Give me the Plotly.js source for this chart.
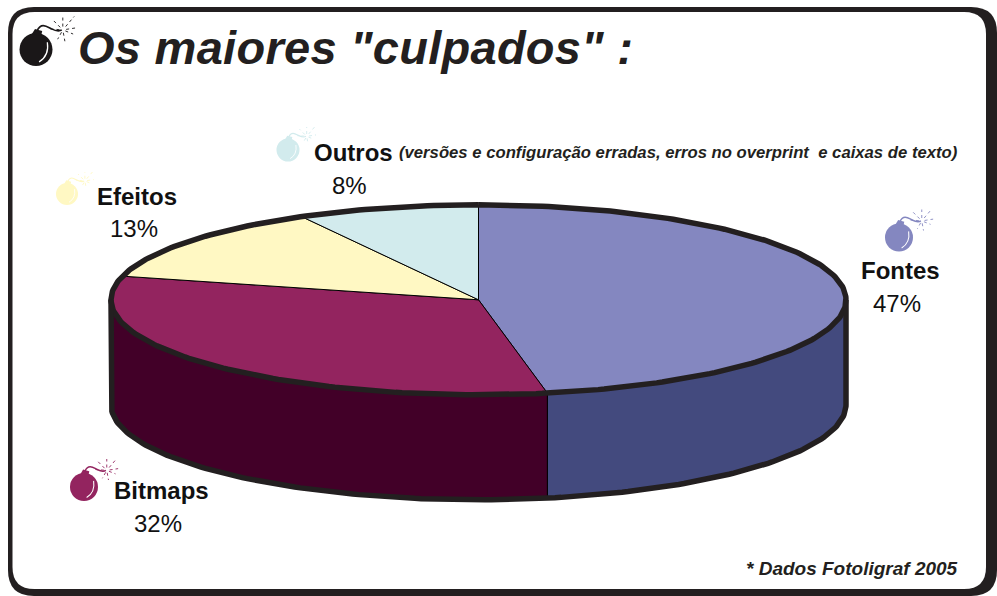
<!DOCTYPE html>
<html>
<head>
<meta charset="utf-8">
<script src="https://cdn.plot.ly/plotly-3.0.1.min.js"></script>
<style>
html,body{margin:0;padding:0;background:#fff;overflow:hidden}
#chart{width:997px;height:596px}
.gtitle{letter-spacing:0.28px}
</style>
</head>
<body>
<div id="chart"></div>
<script>
// Data
const categories = ['Fontes', 'Bitmaps', 'Efeitos', 'Outros'];
const shares = [47, 32, 13, 8];
const topColors = ['#8487c0', '#93245f', '#fff8c3', '#d2ebed'];
const sideColors = ['#434a7e', '#420028', '#fff8c3', '#d2ebed'];
const chartTitle = 'Os maiores "culpados" :';
const outrosNote = '(versões e configuração erradas, erros no overprint  e caixas de texto)';
const sourceNote = '* Dados Fotoligraf 2005';

// Geometry of the tilted pie, in axis units (axes run 0..997 and 596..0)
const PIE = {cx: 478.5, cy: 299.8, a: 367.5, b: 95, depth: 105};
const INK = '#231f20';
const rim = (deg, dy = 0) => {
  const t = deg * Math.PI / 180;
  return [PIE.cx + PIE.a * Math.sin(t), PIE.cy - PIE.b * Math.cos(t) + dy];
};
const arc = (from, to, dy = 0) => {
  const n = Math.max(2, Math.ceil(Math.abs(to - from)));
  const pts = [];
  for (let i = 0; i <= n; i++) pts.push(rim(from + (to - from) * i / n, dy));
  return pts;
};
const poly = (pts, fill, line, width) => ({
  type: 'scatter', mode: 'lines', x: pts.map(p => p[0]), y: pts.map(p => p[1]),
  fill: fill ? 'toself' : 'none', fillcolor: fill || undefined,
  line: {color: line, width: width}, hoverinfo: 'skip', showlegend: false
});

const total = shares.reduce((s, v) => s + v, 0);
let acc = 0;
const slices = shares.map((v, i) => {
  const from = acc / total * 360;
  acc += v;
  return {from, to: acc / total * 360, i};
});

const traces = [];
// Side walls: the visible front half of the rim only
slices.forEach(s => {
  const from = Math.max(s.from, 90), to = Math.min(s.to, 270);
  if (to <= from) return;
  const pts = arc(from, to).concat(arc(to, from, PIE.depth));
  pts.push(pts[0]);
  traces.push(poly(pts, sideColors[s.i], '#000000', 1));
});
// Top faces
slices.forEach(s => {
  const pts = [[PIE.cx, PIE.cy]].concat(arc(s.from, s.to));
  pts.push([PIE.cx, PIE.cy]);
  traces.push(poly(pts, topColors[s.i], '#000000', 1));
});
// Heavy outline
traces.push(poly(arc(0, 360), null, INK, 5.5));
const shell = [rim(270)].concat(arc(270, 90, PIE.depth)).concat([rim(90)]);
traces.push(poly(shell, null, INK, 5.5));

// Page frame and bomb icons
const rr = (x0, y0, x1, y1, r) =>
  `M${x0 + r},${y0}L${x1 - r},${y0}Q${x1},${y0} ${x1},${y0 + r}L${x1},${y1 - r}Q${x1},${y1} ${x1 - r},${y1}` +
  `L${x0 + r},${y1}Q${x0},${y1} ${x0},${y1 - r}L${x0},${y0 + r}Q${x0},${y0} ${x0 + r},${y0}Z`;

const shapes = [
  {type: 'path', path: rr(8, 7, 997, 596, 26), fillcolor: INK, line: {width: 0}, layer: 'below'},
  {type: 'path', path: rr(12.5, 12, 986, 589, 22), fillcolor: '#ffffff', line: {width: 0}, layer: 'below'}
];
function bomb(x, y, r, color, shine) {
  const s = r / 16, X = v => x + v * s, Y = v => y + v * s;
  const base = {xref: 'x', yref: 'y', layer: 'above'};
  shapes.push(Object.assign({}, base, {type: 'circle', x0: X(-16), x1: X(16), y0: Y(-16), y1: Y(16), fillcolor: color, line: {width: 0}}));
  shapes.push(Object.assign({}, base, {type: 'path', path: `M${X(-4)},${Y(-15)}L${X(-1)},${Y(-20)}L${X(6)},${Y(-18)}L${X(5)},${Y(-13)}Z`, fillcolor: color, line: {width: 0}}));
  shapes.push(Object.assign({}, base, {type: 'path', path: `M${X(1)},${Y(-18)}C${X(5)},${Y(-27)} ${X(11)},${Y(-22)} ${X(15)},${Y(-20)}C${X(19)},${Y(-18)} ${X(22)},${Y(-17)} ${X(25)},${Y(-19)}`, line: {color: color, width: Math.max(1, 1.6 * s)}}));
  shapes.push(Object.assign({}, base, {type: 'path', path: `M${X(11)},${Y(-7)}Q${X(13)},${Y(6)} ${X(3)},${Y(12)}`, line: {color: shine, width: Math.max(0.8, 1.2 * s)}}));
  [[-10, -10], [0, -13], [11, -13], [13, -2], [10, 4], [2, 11], [-5, 9], [-13, -1]].forEach(d => {
    shapes.push(Object.assign({}, base, {type: 'line', x0: X(26 + d[0] * 0.25), y0: Y(-19 + d[1] * 0.25), x1: X(26 + d[0]), y1: Y(-19 + d[1]),
      line: {color: color, width: 0.9, dash: 'dot'}}));
  });
}
bomb(36, 49.5, 16.5, '#1a1718', '#ffffff');
bomb(899, 237.5, 14, topColors[0], '#ffffff');
bomb(84, 487, 14, topColors[1], '#ffffff');
bomb(67, 194, 11, topColors[2], '#ffffff');
bomb(288, 150, 11.5, topColors[3], '#ffffff');

// Text
const FONT = '"Liberation Sans", Arial, sans-serif';
const note = (text, x, y, size, anchor, color) => ({
  text, x, y, xref: 'x', yref: 'y', showarrow: false, xanchor: anchor || 'center', yanchor: 'middle',
  align: 'left', font: {family: FONT, size, color: color || '#111111'}
});
const namePos = [[900.5, 270], [161.5, 490], [137, 196], [353.5, 152]];
const pctPos = [[897, 303], [158, 523], [134, 228], [349, 185]];
const annotations = [];
categories.forEach((c, i) => {
  annotations.push(note('<b>' + c + '</b>', namePos[i][0], namePos[i][1], 24));
  annotations.push(note(shares[i] + '%', pctPos[i][0], pctPos[i][1], 24));
});
annotations.push(note('<b><i>' + outrosNote + '</i></b>', 397, 152, 16.7, 'left', INK));
annotations.push(note('<b><i>' + sourceNote + '</i></b>', 744, 568, 19, 'left', INK));

const layout = {
  width: 997, height: 596,
  margin: {l: 0, r: 0, t: 0, b: 0, pad: 0},
  paper_bgcolor: '#ffffff', plot_bgcolor: 'rgba(0,0,0,0)',
  title: {text: '<b><i>' + chartTitle + '</i></b>', x: 78 / 997, xref: 'paper', xanchor: 'left',
    y: 1 - 48 / 596, yref: 'paper', yanchor: 'middle', automargin: false,
    font: {family: FONT, size: 47, color: INK}},
  xaxis: {range: [0, 997], visible: false, fixedrange: true},
  yaxis: {range: [596, 0], visible: false, fixedrange: true},
  shapes, annotations, showlegend: false
};
Plotly.newPlot('chart', traces, layout, {displayModeBar: false, staticPlot: true});
</script>
</body>
</html>
